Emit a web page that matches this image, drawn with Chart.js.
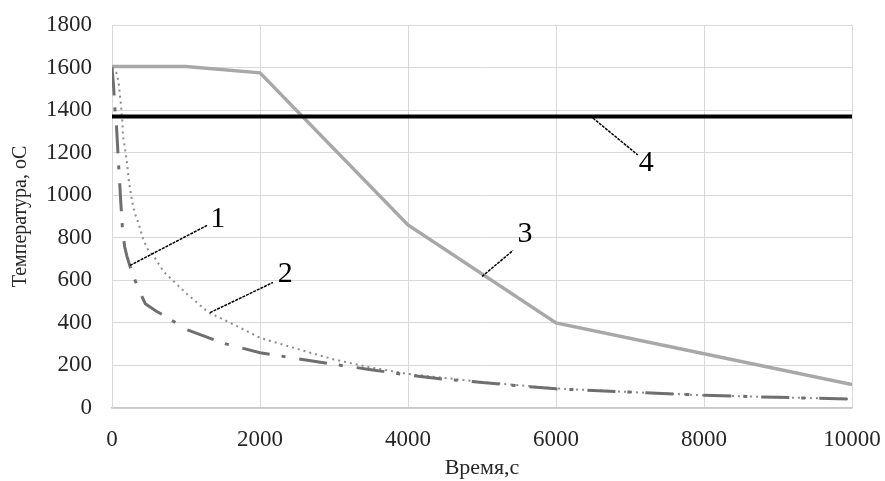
<!DOCTYPE html>
<html>
<head>
<meta charset="utf-8">
<script src="https://cdn.jsdelivr.net/npm/chart.js@4.4.1/dist/chart.umd.min.js"></script>
<style>
    html, body { margin: 0; padding: 0; background: #fff; }
</style>
</head>
<body>
<canvas id="tempChart" width="885" height="481"></canvas>
<script>
// curve 1 (dash-dot)
var time1 = [0, 20, 40, 60, 80, 100, 120, 140, 170, 200, 270, 350, 450, 600, 750, 1000, 1500, 2000, 2500, 3000, 3500, 4000, 4500, 5000, 5500, 6000, 7000, 8000, 9000, 10000];
var temp1 = [1600, 1520, 1400, 1330, 1200, 1080, 960, 850, 760, 715, 637, 566, 490, 455, 425, 370, 305, 260, 232, 205, 180, 155, 135, 120, 104, 90, 75, 60, 50, 42];
// curve 2 (dotted)
var time2 = [0, 60, 90, 110, 125, 140, 150, 180, 210, 230, 270, 310, 360, 420, 490, 580, 700, 820, 1000, 1300, 1600, 2000, 2500, 3000, 3500, 4000, 5000, 6000, 7000, 8000, 9000, 10000];
var temp2 = [1600, 1575, 1530, 1460, 1410, 1345, 1275, 1210, 1130, 1060, 975, 915, 865, 795, 740, 705, 640, 600, 540, 450, 400, 330, 278, 228, 190, 160, 122, 92, 75, 60, 50, 42];
// curve 3
var time3 = [0, 1000, 2000, 4000, 6000, 8000, 10000];
var temp3 = [1605, 1605, 1575, 860, 400, 255, 110];
// curve 4
var time4 = [0, 10000];
var temp4 = [1370, 1370];

var xTicks = [0, 2000, 4000, 6000, 8000, 10000];
var yTicks = [0, 200, 400, 600, 800, 1000, 1200, 1400, 1600, 1800];

// number labels with leader lines: [label, fromX, fromY, toX, toY, textX, textY]
var callouts = [
    ["1", 243, 670, 1284, 858, 1430, 890],
    ["2", 1324, 448, 2175, 590, 2340, 630],
    ["3", 5000, 618, 5418, 740, 5580, 815],
    ["4", 6498, 1363, 7106, 1189, 7220, 1150]
];

function toPoints(xs, ys) {
    return xs.map(function (x, i) { return { x: x, y: ys[i] }; });
}

var calloutPlugin = {
    id: 'callouts',
    afterDatasetsDraw: function (chart) {
        var ctx = chart.ctx;
        var sx = chart.scales.x, sy = chart.scales.y;
        ctx.save();
        callouts.forEach(function (c) {
            ctx.strokeStyle = '#000';
            ctx.lineWidth = 1.5;
            ctx.setLineDash([3, 1]);
            ctx.beginPath();
            ctx.moveTo(sx.getPixelForValue(c[1]), sy.getPixelForValue(c[2]));
            ctx.lineTo(sx.getPixelForValue(c[3]), sy.getPixelForValue(c[4]));
            ctx.stroke();
            ctx.setLineDash([]);
            ctx.fillStyle = '#000';
            ctx.font = '30px "Liberation Serif"';
            ctx.textAlign = 'center';
            ctx.textBaseline = 'middle';
            ctx.fillText(c[0], sx.getPixelForValue(c[5]), sy.getPixelForValue(c[6]));
        });
        ctx.restore();
    }
};

var ctx = document.getElementById('tempChart').getContext('2d');
var tempChart = new Chart(ctx, {
    type: 'scatter',
    data: {
        datasets: [{
            label: '4',
            data: toPoints(time4, temp4),
            showLine: true,
            borderColor: '#000000',
            borderWidth: 4,
            pointRadius: 0,
            order: 0
        }, {
            label: '1',
            data: toPoints(time1, temp1),
            showLine: true,
            borderColor: '#6f6f6f',
            borderWidth: 3,
            borderDash: [28, 12, 4, 14],
            pointRadius: 0,
            order: 1
        }, {
            label: '2',
            data: toPoints(time2, temp2),
            showLine: true,
            borderColor: '#8c8c8c',
            borderWidth: 2,
            borderDash: [2, 4],
            pointRadius: 0,
            order: 2
        }, {
            label: '3',
            data: toPoints(time3, temp3),
            showLine: true,
            borderColor: '#a8a8a8',
            borderWidth: 3.5,
            pointRadius: 0,
            order: 3
        }]
    },
    options: {
        responsive: false,
        animation: false,
        layout: {
            padding: { top: 25, right: 33, bottom: 0, left: 0 }
        },
        plugins: {
            legend: { display: false },
            tooltip: { enabled: false }
        },
        scales: {
            x: {
                type: 'linear',
                min: 0,
                max: 10000,
                afterBuildTicks: function (axis) {
                    axis.ticks = xTicks.map(function (v) { return { value: v }; });
                },
                grid: { color: '#d9d9d9', lineWidth: 1, drawTicks: false },
                border: { color: '#c8c8c8', width: 1.5 },
                ticks: {
                    padding: 18,
                    maxRotation: 0,
                    color: '#262626',
                    font: { family: '"Liberation Serif"', size: 23 },
                    callback: function (v) { return String(v); }
                },
                title: {
                    display: true,
                    text: 'Время,с',
                    color: '#262626',
                    padding: { top: 5, bottom: 0 },
                    font: { family: '"Liberation Serif"', size: 22, weight: 'normal' }
                },
                afterFit: function (axis) {
                    axis.height = 73;
                    axis.paddingLeft = 0;
                    axis.paddingRight = 0;
                }
            },
            y: {
                min: 0,
                max: 1800,
                afterBuildTicks: function (axis) {
                    axis.ticks = yTicks.map(function (v) { return { value: v }; });
                },
                grid: { color: '#d9d9d9', lineWidth: 1, drawTicks: false },
                border: { color: '#d9d9d9', width: 1 },
                ticks: {
                    padding: 20,
                    color: '#262626',
                    font: { family: '"Liberation Serif"', size: 23 },
                    callback: function (v) { return String(v); }
                },
                title: {
                    display: true,
                    text: 'Температура, оС',
                    color: '#262626',
                    padding: { top: 9, bottom: 0 },
                    font: { family: '"Liberation Serif"', size: 20, weight: 'normal' }
                },
                afterFit: function (axis) {
                    axis.width = 112;
                    axis.paddingTop = 0;
                    axis.paddingBottom = 0;
                }
            }
        }
    },
    plugins: [calloutPlugin]
});
</script>
</body>
</html>
